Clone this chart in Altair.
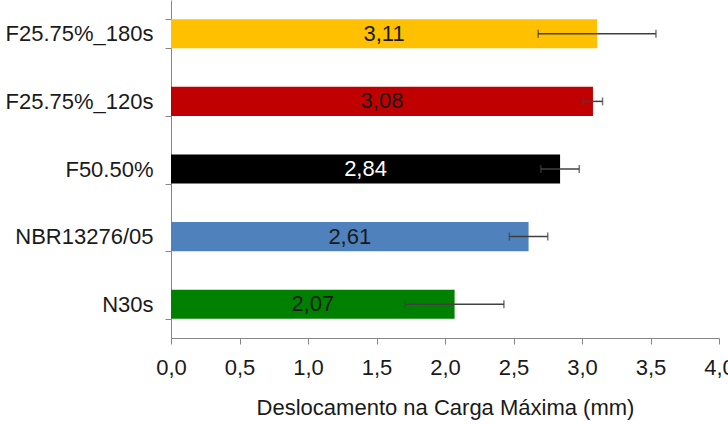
import altair as alt
import pandas as pd

categories = ["F25.75%_180s", "F25.75%_120s", "F50.50%", "NBR13276/05", "N30s"]
values = [3.11, 3.08, 2.84, 2.61, 2.07]
errors = [0.43, 0.07, 0.14, 0.14, 0.36]
colors = ["#FFC000", "#C00000", "#000000", "#4F81BD", "#008000"]
x_ticks = [0.0, 0.5, 1.0, 1.5, 2.0, 2.5, 3.0, 3.5, 4.0]

df = pd.DataFrame({"cat": categories, "val": values, "err": errors})

FONT = "Liberation Sans"
XTITLE = "Deslocamento na Carga Máxima (mm)"

yenc = alt.Y(
    "cat:N",
    sort=categories,
    title=None,
    scale=alt.Scale(paddingInner=0.57, paddingOuter=0.285),
    axis=alt.Axis(tickBand="extent", labelPadding=12, labelFontSize=22),
)
xscale = alt.Scale(domain=[0, 4], nice=False, zero=True)
xaxis = alt.Axis(
    values=x_ticks,
    labelExpr="replace(format(datum.value, '.1f'), '.', ',')",
    labelPadding=13,
    titlePadding=19,
    labelFlush=False,
    labelOverlap=False,
)

base = alt.Chart(df).transform_calculate(
    lo="datum.val - datum.err",
    hi="datum.val + datum.err",
    mid="datum.val / 2",
    lbl="replace(format(datum.val, '.2f'), '.', ',')",
)

bars = base.mark_bar().encode(
    x=alt.X("val:Q", scale=xscale, axis=xaxis, title=XTITLE),
    y=yenc,
    color=alt.Color("cat:N", scale=alt.Scale(domain=categories, range=colors), legend=None),
)

rule = base.mark_rule(color="#404040", strokeWidth=1.5).encode(
    x=alt.X("lo:Q", scale=xscale, title=XTITLE),
    x2="hi:Q",
    y=yenc,
)

cap_lo = base.mark_tick(color="#404040", thickness=1.5, size=8).encode(
    x=alt.X("lo:Q", scale=xscale, title=XTITLE),
    y=yenc,
)
cap_hi = base.mark_tick(color="#404040", thickness=1.5, size=8).encode(
    x=alt.X("hi:Q", scale=xscale, title=XTITLE),
    y=yenc,
)

text = base.mark_text(font=FONT, fontSize=22, align="center", baseline="middle").encode(
    x=alt.X("mid:Q", scale=xscale, title=XTITLE),
    y=yenc,
    text="lbl:N",
    color=alt.condition(alt.datum.cat == "F50.50%", alt.value("#ffffff"), alt.value("#1a1a1a")),
)

chart = (
    alt.layer(bars, text, rule, cap_lo, cap_hi)
    .properties(
        width=548,
        height=338,
        autosize=alt.AutoSizeParams(type="none"),
        padding={"left": 171, "top": 0, "right": 9, "bottom": 86},
        background="white",
    )
    .configure_view(stroke=None)
    .configure_axis(
        grid=False,
        domainColor="#868686",
        tickColor="#868686",
        tickSize=6,
        labelFont=FONT,
        titleFont=FONT,
        labelFontSize=22,
        titleFontSize=22,
        titleFontWeight="normal",
        labelColor="#1a1a1a",
        titleColor="#1a1a1a",
    )
)

chart.save("out.html", embed_options={"renderer": "svg", "actions": False})
